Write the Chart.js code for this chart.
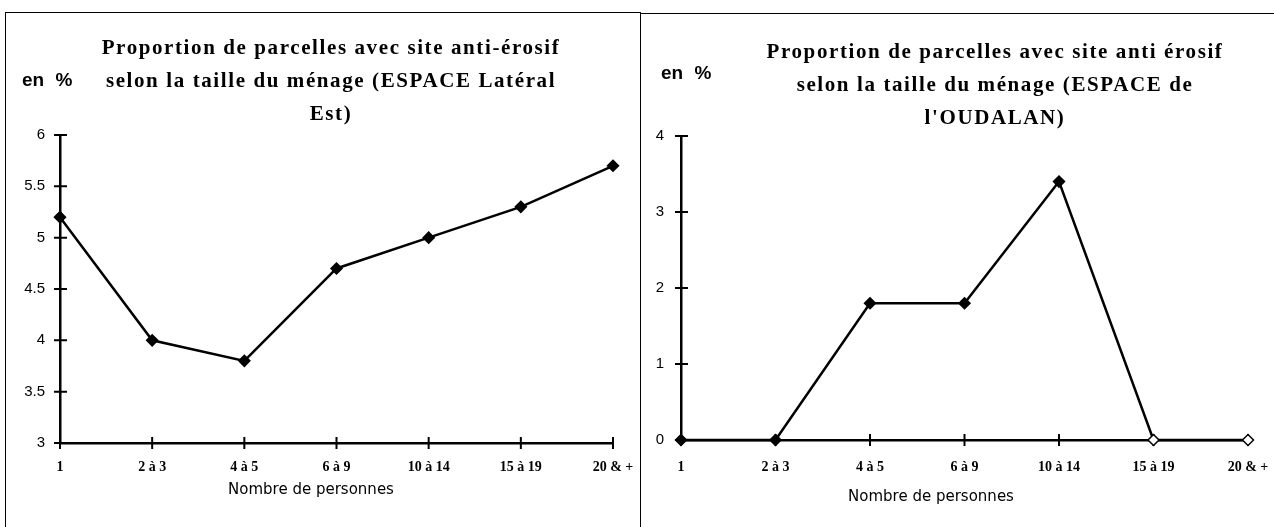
<!DOCTYPE html>
<html lang="fr">
<head>
<meta charset="utf-8">
<script src="https://cdn.jsdelivr.net/npm/chart.js@4"></script>
<style>
  body { margin: 0; background: #fff; }
  #page { position: relative; width: 1274px; height: 527px; overflow: hidden; background: #fff; }
  canvas { position: absolute; top: 0; }
  .frame { position: absolute; border-color: #000; border-style: solid; border-width: 0; }
  .title {
    position: absolute; transform: translateX(-50%); white-space: nowrap; text-align: center;
    font: bold 21px "Liberation Serif", serif; letter-spacing: 1.6px; line-height: 33px; color: #000;
  }
  .unit { position: absolute; font: bold 19px "Liberation Sans", sans-serif; color: #000; word-spacing: 6px; }
  .axisTitle {
    position: absolute; transform: translateX(-50%); white-space: nowrap;
    font: 15px "DejaVu Sans", sans-serif; color: #000;
  }
</style>
</head>
<body>
<div id="page">
  <div class="frame" style="left:5px; top:12px; width:635px; height:520px; border-left-width:1px; border-top-width:1px;"></div>
  <div class="frame" style="left:640px; top:13px; width:634px; height:520px; border-left-width:1px; border-top-width:1px;"></div>

  <canvas id="chartLateralEst" width="640" height="527" style="left:0"></canvas>
  <canvas id="chartOudalan" width="634" height="527" style="left:640px"></canvas>

  <div class="title" style="left:331px; top:31px;">Proportion de parcelles avec site anti-érosif<br>selon la taille du ménage (ESPACE Latéral<br>Est)</div>
  <div class="unit" style="left:22px; top:69px;">en %</div>
  <div class="axisTitle" style="left:311px; top:480px;">Nombre de personnes</div>

  <div class="title" style="left:995px; top:35px;">Proportion de parcelles avec site anti érosif<br>selon la taille du ménage (ESPACE de<br>l'OUDALAN)</div>
  <div class="unit" style="left:661px; top:62px;">en %</div>
  <div class="axisTitle" style="left:931px; top:487px;">Nombre de personnes</div>
</div>

<script>
// household size classes
const householdSizes = ['1', '2 à 3', '4 à 5', '6 à 9', '10 à 14', '15 à 19', '20 & +'];

// share of plots with an anti-erosion site, in %
const lateralEstValues = [5.2, 4.0, 3.8, 4.7, 5.0, 5.3, 5.7];
const oudalanValues = [0, 0, 1.8, 1.8, 3.4, 0, 0];

// y axis ranges
const lateralEstRange = { min: 3, max: 6, step: 0.5 };
const oudalanRange = { min: 0, max: 4, step: 1 };

// tick marks that cross both axes
const crossTicks = {
    id: 'crossTicks',
    beforeDatasetsDraw(chart) {
        const ctx = chart.ctx;
        const x = chart.scales.x;
        const y = chart.scales.y;
        ctx.save();
        ctx.strokeStyle = '#000';
        ctx.lineWidth = 2;
        ctx.beginPath();
        x.ticks.forEach((t, i) => {
            const px = x.getPixelForTick(i);
            ctx.moveTo(px, y.bottom - 6);
            ctx.lineTo(px, y.bottom + 6);
        });
        y.ticks.forEach((t, i) => {
            const py = y.getPixelForTick(i);
            ctx.moveTo(x.left - 6, py);
            ctx.lineTo(x.left + 7, py);
        });
        ctx.stroke();
        ctx.restore();
    }
};

function lineChart(canvasId, values, range, box, pointFill) {
    new Chart(document.getElementById(canvasId), {
        type: 'line',
        data: {
            labels: householdSizes,
            datasets: [{
                data: values,
                borderColor: '#000',
                borderWidth: 2.5,
                tension: 0,
                clip: false,
                pointStyle: 'rectRot',
                pointRadius: 5.5,
                pointBorderWidth: 1.5,
                pointBorderColor: '#000',
                pointBackgroundColor: pointFill
            }]
        },
        options: {
            responsive: false,
            animation: false,
            events: [],
            layout: {
                autoPadding: false,
                padding: { top: box.top, right: box.right, left: 0, bottom: 0 }
            },
            plugins: {
                legend: { display: false },
                title: { display: false },
                tooltip: { enabled: false }
            },
            scales: {
                x: {
                    offset: false,
                    grid: { display: false, drawTicks: false },
                    border: { display: true, color: '#000', width: 2.5 },
                    afterFit: (scale) => {
                        scale.height = box.xHeight;
                        scale.paddingLeft = 0;
                        scale.paddingRight = 0;
                    },
                    ticks: {
                        color: '#000',
                        padding: box.xPad,
                        autoSkip: false,
                        maxRotation: 0,
                        font: { family: 'Liberation Serif', size: 14, weight: 'bold' }
                    }
                },
                y: {
                    min: range.min,
                    max: range.max,
                    grid: { display: false, drawTicks: false },
                    border: { display: true, color: '#000', width: 2.5 },
                    afterFit: (scale) => { scale.width = box.yWidth; },
                    ticks: {
                        stepSize: range.step,
                        color: '#000',
                        padding: box.yPad,
                        font: { family: 'Liberation Sans', size: 15 },
                        callback: (v) => String(v)
                    }
                }
            }
        },
        plugins: [crossTicks]
    });
}

lineChart('chartLateralEst', lateralEstValues, lateralEstRange,
    { top: 135, right: 27, xHeight: 84, yWidth: 60, xPad: 16, yPad: 15 },
    '#000');

lineChart('chartOudalan', oudalanValues, oudalanRange,
    { top: 136, right: 26, xHeight: 87, yWidth: 41, xPad: 19, yPad: 17 },
    ['#000', '#000', '#000', '#000', '#000', '#fff', '#fff']);
</script>
</body>
</html>
